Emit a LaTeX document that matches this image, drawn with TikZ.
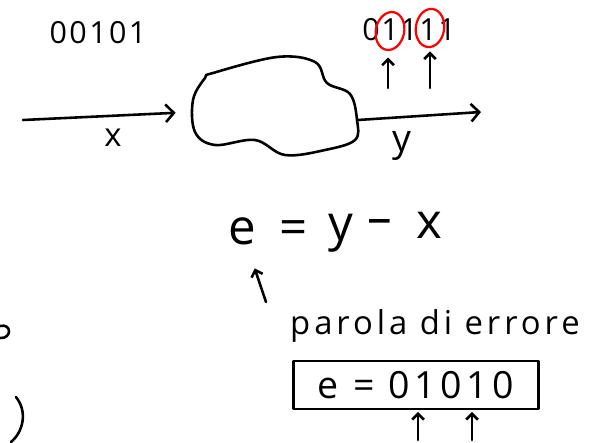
\documentclass[tikz,border=0pt]{standalone}
\usepackage{fontspec}
\setmainfont{Open Sans}
\usetikzlibrary{arrows.meta,shapes.geometric,positioning,calc}

\begin{document}
\begin{tikzpicture}[
    x=0.03cm, y=-0.03cm,
    every node/.style={inner sep=0pt},
    ink/.style={line width=2.2pt, line cap=round, line join=round},
    bigarrow/.style={ink, -{Straight Barb[length=7pt,width=15pt,line width=2.2pt]}},
    smallarrow/.style={ink, -{Straight Barb[length=5pt,width=10pt,line width=2.2pt]}},
    bits/.style={font=\fontsize{26}{30}\selectfont\addfontfeatures{LetterSpace=8}},
    hand/.style={font=\fontsize{28}{32}\selectfont\addfontfeatures{LetterSpace=12}},
    eqfont/.style={font=\fontsize{42}{48}\selectfont, anchor=base},
    redring/.style={draw=red, line width=1.9pt, ellipse,
      minimum width=0.85cm, minimum height=1.15cm},
  ]
  \useasboundingbox (0,0) rectangle (598,442);

  % --- input word and channel ---
  \node[bits] (xword) at (98,33) {00101};

  \draw[ink] plot[smooth cycle, tension=0.6] coordinates {
    (213,73) (277,57) (315,62) (327,83) (350,94) (357,120) (355,140)
    (325,150) (285,155) (255,140) (215,145) (195,132) (193,100) (205,78)};
  \node[minimum width=4.95cm, minimum height=2.85cm] (channel) at (275,112) {};

  \coordinate (xin) at (23,120);
  \coordinate (yout) at (481,112);
  \draw[bigarrow, shorten >=0.5cm] (xin) -- (channel.west);
  \draw[bigarrow] ([yshift=-0.24cm]channel.east) -- (yout);
  \node[font=\fontsize{28}{32}\selectfont] (xlab) at (113,138) {x};
  \node[font=\fontsize{32}{36}\selectfont] (ylab) at (402,146) {y};

  % --- received word, flipped bits ---
  \foreach \b [count=\i] in {0,1,1,1,1}
    \node[bits] (ybit\i) at ({352+19*\i},30) {\b};
  \node[redring, rotate=-12] (ring2) at (390,31) {};
  \node[redring, rotate=-8] (ring4) at (430,28) {};
  \coordinate (up2) at (388,88);
  \coordinate (up4) at (430,88);
  \draw[smallarrow, shorten >=0.2cm] (up2) -- (up2 |- ring2.south);
  \draw[smallarrow, shorten >=0.1cm] (up4) -- (up4 |- ring4.south);

  % --- error word ---
  \node[eqfont] (evar) at (242,244) {e};
  \node[eqfont] (eqsign) at (294,244) {=};
  \node[eqfont] (yvar) at (341,240) {y};
  \node[eqfont] (minus) at (380,234) {–};
  \node[eqfont] (xvar) at (429,238) {x};

  \coordinate (etail) at (266,302);
  \draw[smallarrow, shorten >=0.75cm] (etail) -- (evar);

  \node[hand, anchor=base west] (errlabel) at (290,334) {parola di errore};

  \node[draw, ink, minimum width=7.35cm, minimum height=1.44cm,
    font=\fontsize{32}{36}\selectfont\addfontfeatures{LetterSpace=12}]
    (errbox) at (416,385) {e = 01010};
  \coordinate (bit2) at (418,440);
  \coordinate (bit4) at (472,440);
  \draw[smallarrow, shorten >=0.05cm] (bit2) -- (bit2 |- errbox.south);
  \draw[smallarrow, shorten >=0.05cm] (bit4) -- (bit4 |- errbox.south);

  % --- fragments at the left edge ---
  \draw[ink] (0,326) .. controls (12,323) and (12,339) .. (0,338);
  \draw[ink] (16,397) .. controls (28,412) and (23,432) .. (11,442);
\end{tikzpicture}
\end{document}
